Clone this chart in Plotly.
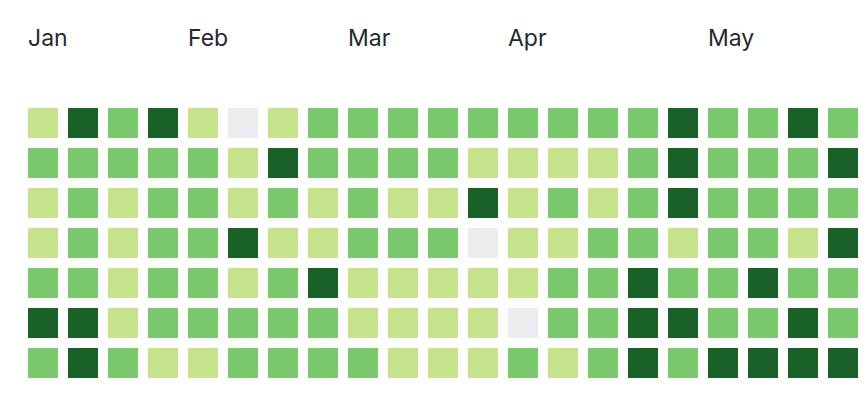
import plotly.graph_objects as go

# contribution levels (0 = none, 1 = low, 2 = medium, 3 = high), one list per weekday row
sun = [1, 3, 2, 3, 1, 0, 1, 2, 2, 2, 2, 2, 2, 2, 2, 2, 3, 2, 2, 3, 2]
mon = [2, 2, 2, 2, 2, 1, 3, 2, 2, 2, 2, 1, 1, 1, 1, 2, 3, 2, 2, 2, 3]
tue = [1, 2, 1, 2, 2, 1, 2, 1, 2, 1, 1, 3, 1, 2, 1, 2, 3, 2, 2, 2, 2]
wed = [1, 2, 1, 2, 2, 3, 1, 1, 2, 2, 2, 0, 1, 1, 2, 2, 1, 2, 2, 1, 3]
thu = [2, 2, 1, 2, 2, 1, 2, 3, 1, 1, 1, 1, 1, 2, 2, 3, 2, 2, 3, 2, 2]
fri = [3, 3, 1, 2, 2, 2, 2, 2, 1, 1, 1, 1, 0, 2, 2, 3, 3, 2, 2, 3, 2]
sat = [2, 3, 2, 1, 1, 2, 2, 2, 2, 1, 1, 1, 2, 1, 2, 3, 2, 3, 3, 3, 3]

weekday_rows = [sun, mon, tue, wed, thu, fri, sat]
weeks = list(range(len(sun)))
weekdays = list(range(7))

months = ["Jan", "Feb", "Mar", "Apr", "May"]
month_start_week = [0, 4, 8, 12, 17]

level_colors = ["#ebedf0", "#c6e48b", "#7bc96f", "#196127"]
colorscale = []
for i, c in enumerate(level_colors):
    colorscale.append([i / 4, c])
    colorscale.append([(i + 1) / 4, c])

fig = go.Figure(
    go.Heatmap(
        z=weekday_rows,
        x=weeks,
        y=weekdays,
        zmin=-0.5,
        zmax=3.5,
        colorscale=colorscale,
        showscale=False,
        xgap=10,
        ygap=10,
        hoverinfo="skip",
    )
)

for m, w in zip(months, month_start_week):
    fig.add_annotation(
        x=w - 0.5 + 2.5 / 40,
        y=1 + 65 / 280,
        xref="x",
        yref="paper",
        text=m,
        showarrow=False,
        xanchor="left",
        yanchor="middle",
        font=dict(family="Inter, Liberation Sans, sans-serif", size=23, color="#24292e"),
    )

fig.update_xaxes(range=[-0.5, 20.5], visible=False, fixedrange=True)
fig.update_yaxes(range=[6.5, -0.5], visible=False, fixedrange=True)
fig.update_layout(
    width=860,
    height=388,
    margin=dict(l=15, r=5, t=95, b=13),
    paper_bgcolor="white",
    plot_bgcolor="white",
)

fig.write_html("out.html")
